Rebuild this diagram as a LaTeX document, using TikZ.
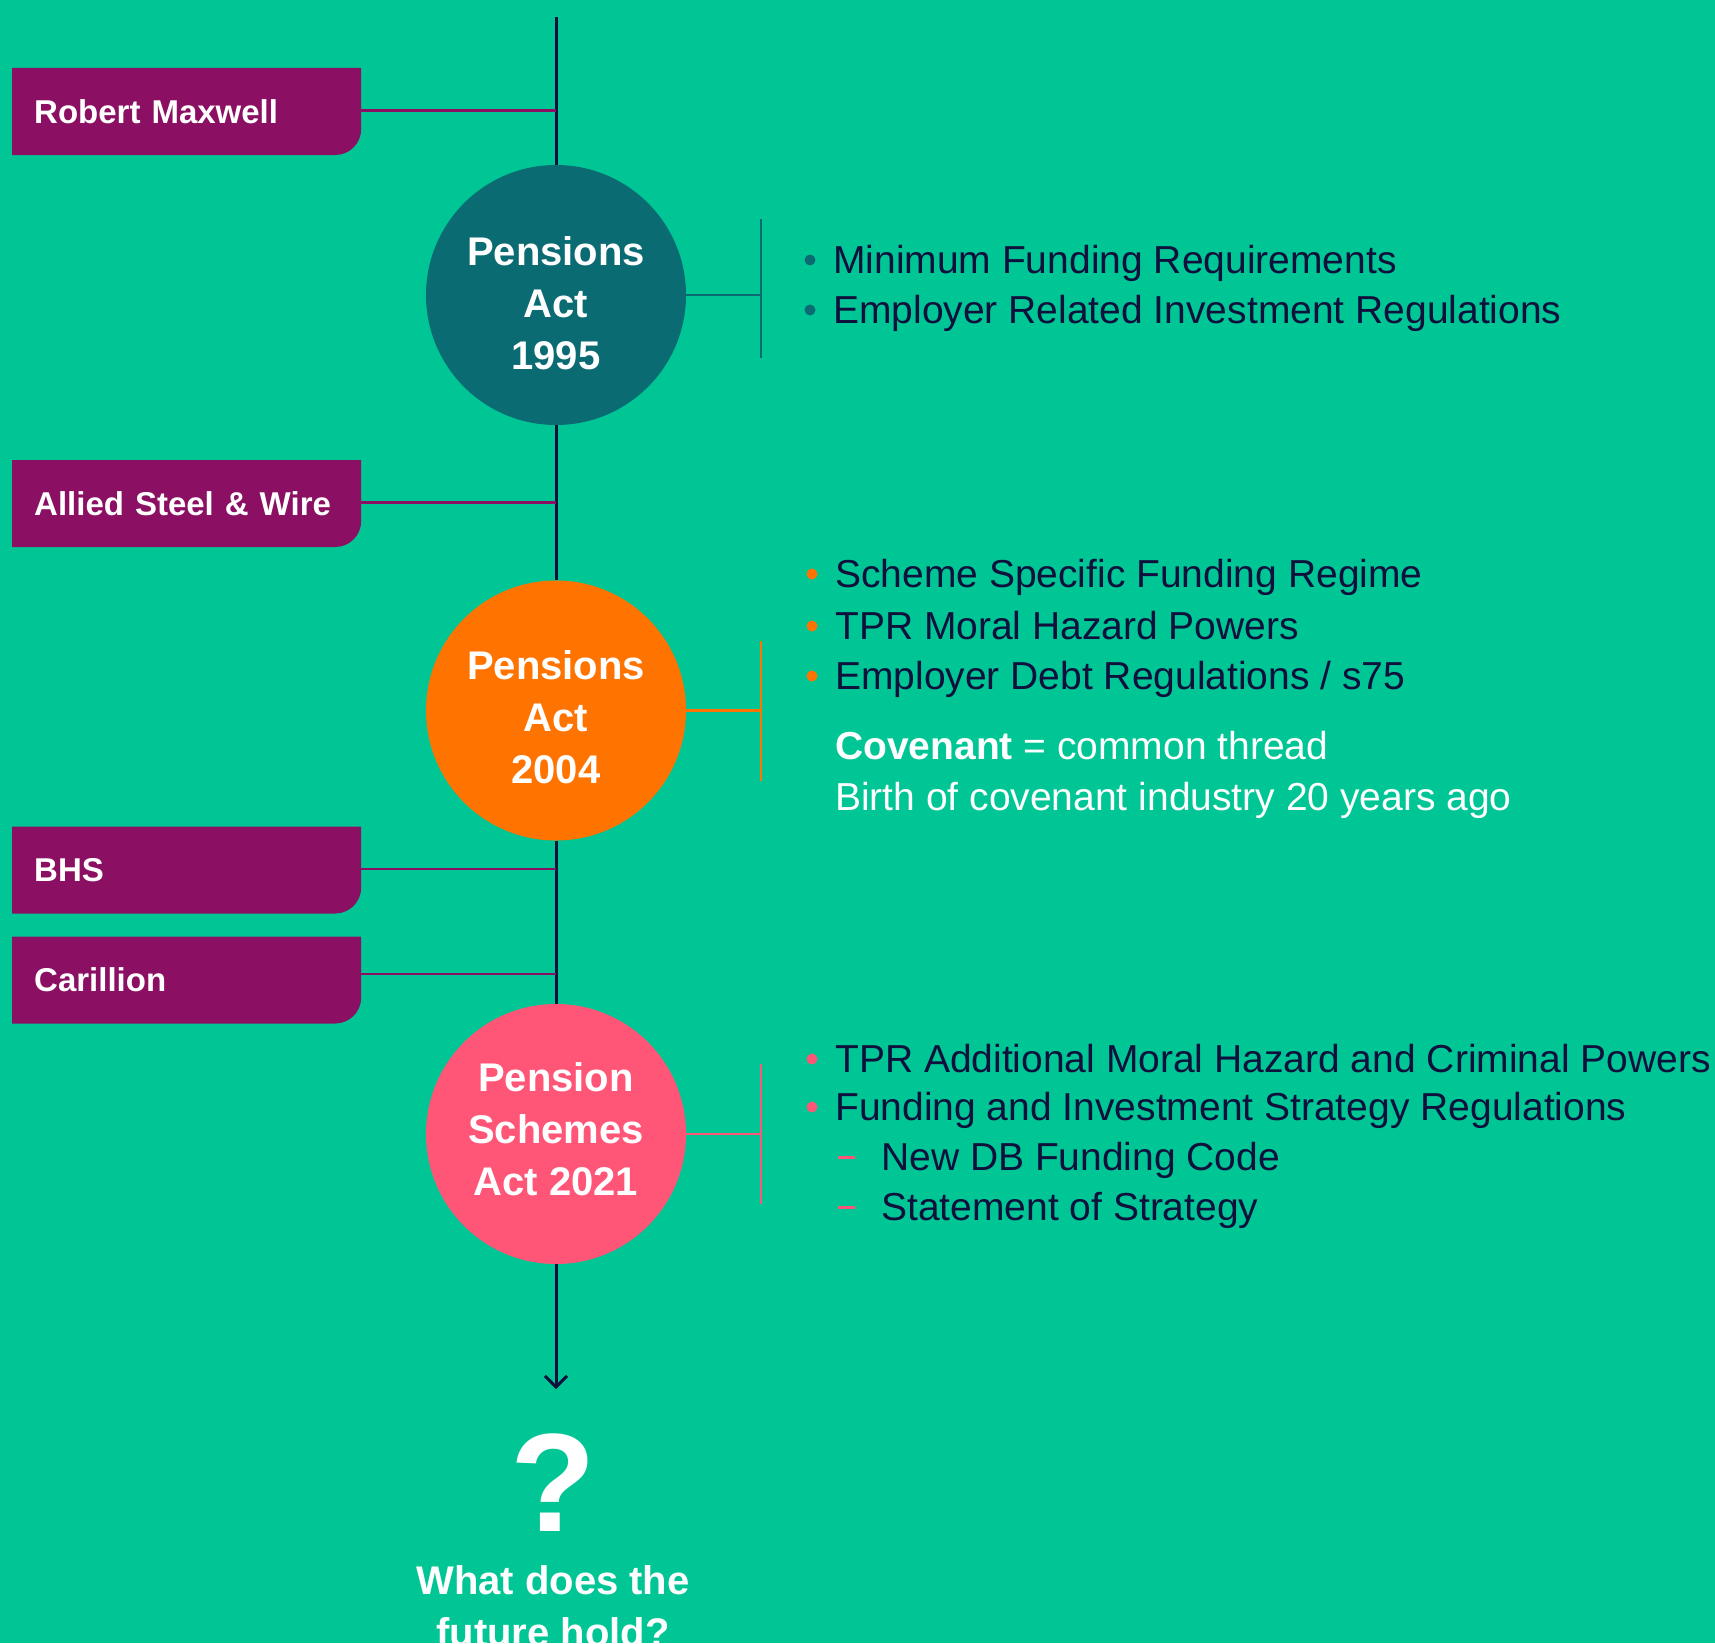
\documentclass[tikz,border=0pt]{standalone}
\usepackage{fontspec}
\setmainfont{Liberation Sans}
\usetikzlibrary{arrows.meta}
\definecolor{bggreen}{HTML}{00C696}
\definecolor{eventpurple}{HTML}{8B0F62}
\definecolor{actteal}{HTML}{0B6B73}
\definecolor{actorange}{HTML}{FF7300}
\definecolor{actpink}{HTML}{FF5577}
\definecolor{inknavy}{HTML}{10103C}

\begin{document}
\begin{tikzpicture}[x=1pt,y=-1pt,
  act/.style={circle,fill=#1,minimum size=260pt,inner sep=0pt,text=white,align=center,
    font=\fontsize{40}{52}\selectfont\bfseries},
  event/.style={rectangle,anchor=west,minimum width=349pt,minimum height=87pt,
    inner xsep=22pt,inner ysep=0pt,text width=305pt,align=left,text=white,
    font=\fontsize{33}{40}\selectfont\bfseries,
    path picture={\fill[eventpurple] (path picture bounding box.north west)
      -- (path picture bounding box.north east)
      -- ([yshift=26pt]path picture bounding box.south east)
      arc[start angle=0,end angle=-90,radius=26pt]
      -- (path picture bounding box.south west) -- cycle;}},
  item/.style={anchor=base west,inner sep=0pt,text=#1,font=\fontsize{39}{47}\selectfont},
  item/.default=inknavy,
  spine/.style={draw=inknavy,line width=3pt},
  tie/.style={draw=#1,line width=2.5pt}]
\useasboundingbox (0,0) rectangle (1715,1643);
\clip (0,0) rectangle (1715,1643);
\fill[bggreen] (0,0) rectangle (1715,1643); %background

% acts on the timeline
\node[act=actteal] (c1) at (556,295) {\rule{0pt}{45pt}Pensions\\Act\\1995};
\node[act=actorange] (c2) at (556,710.5) {\rule{0pt}{42pt}Pensions\\Act\\2004};
\node[act=actpink] (c3) at (556,1134) {Pension\\Schemes\\Act 2021\rule[-10pt]{0pt}{10pt}};
\coordinate (top) at (556,17);
\coordinate (tip) at (556,1389);
\coordinate (brk) at (761,0);

\draw[spine] (top) -- (c1);
\draw[spine] (c1) -- (c2);
\draw[spine] (c2) -- (c3);
\draw[spine,-{Straight Barb[length=11pt,width=22pt]}] (c3) -- (tip);

% events
\node[event] (rm) at (12,111.5) {Robert Maxwell};
\node[event] (asw) at (12,503.5) {Allied Steel \& Wire};
\node[event] (bhs) at (12,870) {BHS};
\node[event] (car) at (12,980) {Carillion};
\foreach \ev/\dy in {rm/1,asw/1,bhs/1,car/6}
  \draw[tie=eventpurple] ([yshift=\dy pt]\ev.east) -- ([yshift=\dy pt]\ev.east -| top);

% brackets
\foreach \c/\col/\up/\len in {c1/actteal/76/139,c2/actorange/70/140,c3/actpink/70/140}{
  \coordinate (\c b) at (\c.east -| brk);
  \draw[tie=\col] (\c.east) -- (\c b);
  \draw[tie=\col] (\c b) ++(0,-\up) -- ++(0,\len);
}

% 1995
\node[item] (mfr) at (833,273) {Minimum Funding Requirements};
\node[item] (erir) at (833,323) {Employer Related Investment Regulations};
% 2004
\node[item] (ssfr) at (835,587) {Scheme Specific Funding Regime};
\node[item] (tmhp) at (835,639) {TPR Moral Hazard Powers};
\node[item] (edr) at (835,689) {Employer Debt Regulations / s75};
\node[item=white] (cov) at (835,759) {\textbf{Covenant} = common thread};
\node[item=white] (birth) at (835,810) {Birth of covenant industry 20 years ago};
% 2021
\node[item] (tamh) at (835,1072) {TPR Additional Moral Hazard and Criminal Powers};
\node[item] (fisr) at (835,1120) {Funding and Investment Strategy Regulations};
\node[item] (dbc) at (881,1170) {New DB Funding Code};
\node[item] (sos) at (881,1220) {Statement of Strategy};

\foreach \it/\col in {mfr/actteal,erir/actteal,ssfr/actorange,tmhp/actorange,
    edr/actorange,tamh/actpink,fisr/actpink}
  \fill[\col] ([xshift=-23pt,yshift=13pt]\it.base west) circle (5.5pt);
\foreach \it in {dbc,sos}
  \draw[actpink,line width=3pt] ([xshift=-43pt,yshift=13pt]\it.base west) -- ++(17,0);

% the future
\node[anchor=base,inner sep=0pt,text=white,font=\fontsize{140}{140}\selectfont\bfseries]
  (qm) at (553,1531) {?};
\node[anchor=north,inner sep=0pt,align=center,text=white,
  font=\fontsize{40}{52}\selectfont\bfseries] (future) at (553,1565)
  {What does the\\future hold?};
\end{tikzpicture}
\end{document}
